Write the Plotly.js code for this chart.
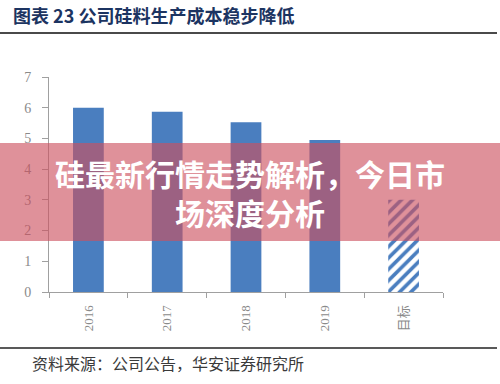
<!DOCTYPE html>
<html>
<head>
<meta charset="utf-8">
<script src="https://cdn.plot.ly/plotly-3.0.1.min.js"></script>
<style>html,body{margin:0;padding:0;background:#fff;}#chart{width:500px;height:384px;}</style>
</head>
<body>
<div id="chart"></div>
<script>
const categories = ['2016', '2017', '2018', '2019', '目标'];
const costValues = [6.0, 5.87, 5.53, 4.95, 3.0];
const yTickValues = [0, 1, 2, 3, 4, 5, 6, 7];
const chartTitle = '图表 23 公司硅料生产成本稳步降低';
const sourceNote = '资料来源：公司公告，华安证券研究所';
const overlayLine1 = '硅最新行情走势解析，今日市';
const overlayLine2 = '场深度分析';

const W = 500, H = 384;
const L = 49, R = 443, T = 77, B = 292;
const px = x => (x - L) / (R - L);
const py = y => (B - y) / (B - T);

const blue = '#4a7ebf';
const nActual = categories.length - 1;

const actualTrace = {
  type: 'bar',
  x: categories.slice(0, nActual),
  y: costValues.slice(0, nActual),
  width: 0.39,
  marker: {color: blue, line: {width: 0}},
  hoverinfo: 'none'
};
const targetTrace = {
  type: 'bar',
  x: categories.slice(nActual),
  y: costValues.slice(nActual),
  width: 0.39,
  marker: {
    color: '#ffffff',
    line: {width: 0},
    pattern: {shape: '/', fgcolor: blue, bgcolor: '#ffffff', size: 8, solidity: 0.45, fillmode: 'replace'}
  },
  hoverinfo: 'none'
};

const layout = {
  width: W, height: H,
  margin: {l: L, r: W - R, t: T, b: H - B, pad: 0},
  paper_bgcolor: '#ffffff',
  plot_bgcolor: '#ffffff',
  showlegend: false,
  barmode: 'overlay',
  title: {
    text: chartTitle,
    x: 13 / W, xanchor: 'left', xref: 'container',
    y: 1 - 17 / H, yanchor: 'middle', yref: 'container',
    font: {family: 'Noto Sans CJK SC', size: 18, color: '#1c3461', weight: 'bold'}
  },
  xaxis: {
    type: 'category',
    categoryarray: categories, categoryorder: 'array',
    range: [-0.5, 4.5],
    showline: true, linecolor: '#a0a0a0', linewidth: 1,
    ticks: 'outside', tickson: 'boundaries', ticklen: 5, tickcolor: '#a0a0a0',
    tickangle: -90,
    ticklabelstandoff: 7,
    tickfont: {family: 'Liberation Serif, Noto Sans CJK SC', size: 13, color: '#8a8a8a'},
    showgrid: false, zeroline: false, fixedrange: true
  },
  yaxis: {
    range: [0, 7],
    tickvals: yTickValues,
    showline: true, linecolor: '#a0a0a0', linewidth: 1,
    ticks: 'outside', ticklen: 6, tickcolor: '#a0a0a0',
    ticklabelstandoff: 8,
    tickfont: {family: 'Liberation Serif', size: 14, color: '#8a8a8a'},
    showgrid: false, zeroline: false, fixedrange: true
  },
  shapes: [
    {type: 'line', xref: 'paper', yref: 'paper', x0: px(0), x1: px(497), y0: py(33), y1: py(33),
     line: {color: '#4a4a4a', width: 2}},
    {type: 'line', xref: 'paper', yref: 'paper', x0: px(0), x1: px(497), y0: py(348), y1: py(348),
     line: {color: '#222222', width: 1.5}},
    {type: 'rect', xref: 'paper', yref: 'paper', x0: px(0), x1: px(500), y0: py(241), y1: py(143),
     fillcolor: 'rgba(205,81,95,0.63)', line: {width: 0}, layer: 'above'}
  ],
  annotations: [
    {xref: 'paper', yref: 'paper', x: px(30), y: py(363), xanchor: 'left', yanchor: 'middle',
     text: sourceNote, showarrow: false,
     font: {family: 'Noto Sans CJK SC', size: 16, color: '#3a3a3a'}},
    {xref: 'paper', yref: 'paper', x: px(250), y: py(192.5), xanchor: 'center', yanchor: 'middle',
     text: overlayLine1 + '<br>' + overlayLine2, showarrow: false, align: 'center',
     font: {family: 'Noto Sans CJK SC', size: 30, color: '#ffffff', weight: 'bold'}}
  ]
};

Plotly.newPlot('chart', [actualTrace, targetTrace], layout, {displayModeBar: false, staticPlot: true});
</script>
</body>
</html>
